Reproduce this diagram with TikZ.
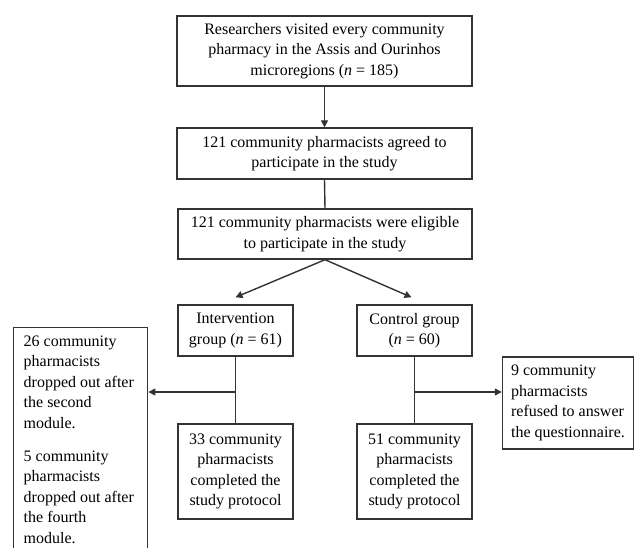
\documentclass[tikz,border=0pt]{standalone}
\usepackage{fontspec}
\setmainfont{Liberation Serif}
\usetikzlibrary{arrows.meta,calc}
\begin{document}
\begin{tikzpicture}[x=1pt,y=-1pt,
  box/.style={draw=black!80,line width=1.4pt,inner sep=0pt,align=center,
    font=\fontsize{16}{20.5}\selectfont},
  conn/.style={draw=black!80,line width=1.4pt},
  arr/.style={conn,-{Triangle[length=7pt,width=7pt]}}]
\useasboundingbox (0,0) rectangle (635,548);
\clip (0,0) rectangle (635,548);
\node[box,minimum width=295pt,minimum height=70pt] (top) at (324.5,51)
  {Researchers visited every community\\pharmacy in the Assis and Ourinhos\\microregions (\textit{n} = 185)};
\node[box,minimum width=295pt,minimum height=51pt] (agree) at (324.5,153.5)
  {121 community pharmacists agreed to\\participate in the study};
\node[box,minimum width=294pt,minimum height=50pt] (elig) at (325,234)
  {121 community pharmacists were eligible\\to participate in the study};
\node[box,minimum width=115pt,minimum height=51pt] (interv) at (235.5,330.5)
  {Intervention\\group (\textit{n} = 61)};
\node[box,minimum width=115pt,minimum height=51pt] (ctrl) at (414.5,330.5)
  {Control group\\(\textit{n} = 60)};
\node[box,minimum width=115pt,minimum height=95pt] (done33) at (235.5,471.5)
  {33 community\\pharmacists\\completed the\\study protocol};
\node[box,minimum width=115pt,minimum height=95pt] (done51) at (414.5,471.5)
  {51 community\\pharmacists\\completed the\\study protocol};
\node[box,anchor=north west,inner xsep=10pt,inner ysep=8pt,align=left] (drop) at (13,327)
  {\parbox[t][225pt][t]{114pt}{\raggedright 26 community\\pharmacists\\dropped out after\\the second\\module.\\[12.5pt]5 community\\pharmacists\\dropped out after\\the fourth\\module.}};
\node[box,align=left,minimum width=131pt,minimum height=92pt] (refuse) at (568,403)
  {9 community\\pharmacists\\refused to answer\\the questionnaire.};
\coordinate (j1) at (235.5,392);
\coordinate (j2) at (414.5,392);
\draw[arr] (top.south) -- (agree.north);
\draw[conn] (agree.south) -- (elig.north);
\draw[arr] (elig.south) -- ([yshift=7pt]interv.north);
\draw[arr] (elig.south) -- ([xshift=-3pt,yshift=7pt]ctrl.north);
\draw[conn] (interv.south) -- (done33.north);
\draw[conn] (ctrl.south) -- (done51.north);
\draw[arr] (j1) -- (j1 -| drop.east);
\draw[arr] (j2) -- (j2 -| refuse.west);
\end{tikzpicture}
\end{document}
